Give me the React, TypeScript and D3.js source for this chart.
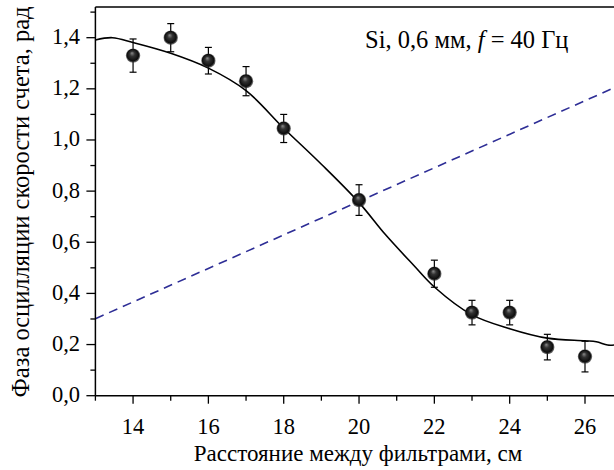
import React from "react";
import * as d3 from "d3";

const xValues = [14, 15, 16, 17, 18, 20, 22, 23, 24, 25, 26];
const yValues = [1.33, 1.4, 1.31, 1.23, 1.045, 0.765, 0.477, 0.325, 0.325, 0.19, 0.153];
const yErrors = [0.065, 0.055, 0.052, 0.057, 0.055, 0.06, 0.053, 0.048, 0.048, 0.05, 0.06];

const fitX = [13.0, 13.45, 14, 15, 16, 17, 18, 19, 20, 20.7, 21.45, 22, 23, 24, 25, 26, 26.3, 26.6, 26.77];
const fitY = [1.391, 1.4, 1.381, 1.339, 1.281, 1.193, 1.046, 0.905, 0.755, 0.63, 0.51, 0.425, 0.316, 0.262, 0.225, 0.215, 0.211, 0.198, 0.198];

const lineX = [13.0, 26.77];
const lineY = [0.301, 1.204];

const xTicks = [14, 16, 18, 20, 22, 24, 26];
const xMinor = [13, 15, 17, 19, 21, 23, 25];
const yTicks = [0, 0.2, 0.4, 0.6, 0.8, 1.0, 1.2, 1.4];
const yMinor = [0.1, 0.3, 0.5, 0.7, 0.9, 1.1, 1.3, 1.5];

const legendText = "Si, 0,6 мм, ";
const xLabel = "Расстояние между фильтрами, см";
const yLabel = "Фаза осцилляции скорости счета, рад";

const W = 614, H = 470;
const L = 95.4, R = 614, T = 7, B = 395.7;

export default function App() {
  const x = d3.scaleLinear().domain([13, 26.77]).range([L, R]);
  const y = d3.scaleLinear().domain([0, 1.52]).range([B, T]);
  const ts = { fontFamily: "Liberation Serif" };

  const fitLine = d3
    .line<number>()
    .x((_, i) => x(fitX[i]))
    .y((d) => y(d))
    .curve(d3.curveCatmullRom.alpha(0.5))(fitY) as string;

  const dashLine = d3
    .line<number>()
    .x((_, i) => x(lineX[i]))
    .y((d) => y(d))(lineY) as string;

  const fmt = (v: number) => v.toFixed(1).replace(".", ",");

  return (
    <svg width={W} height={H} style={{ position: "absolute", left: 0, top: 0, background: "#fff" }}>
      <defs>
        <radialGradient id="ball" cx="0.5" cy="0.5" r="0.5" fx="0.42" fy="0.32">
          <stop offset="0" stopColor="#8a8a8a" />
          <stop offset="0.35" stopColor="#333" />
          <stop offset="0.8" stopColor="#0d0d0d" />
          <stop offset="1" stopColor="#333" stopOpacity="0.6" />
        </radialGradient>
        <clipPath id="clip">
          <rect x={L} y={T} width={R - L} height={B - T} />
        </clipPath>
      </defs>
      <rect width={W} height={H} fill="#fff" />

      <g clipPath="url(#clip)">
        <path d={dashLine} fill="none" stroke="#2e2e96" strokeWidth={1.6} strokeDasharray="9,6" />
        <path d={fitLine} fill="none" stroke="#000" strokeWidth={1.6} />
      </g>

      {xValues.map((xv, i) => {
        const cx = x(xv);
        const y1 = y(yValues[i] + yErrors[i]);
        const y2 = y(yValues[i] - yErrors[i]);
        return (
          <g key={i}>
            <line x1={cx} x2={cx} y1={y1} y2={y2} stroke="#000" strokeWidth={1.2} />
            <line x1={cx - 3.5} x2={cx + 3.5} y1={y1} y2={y1} stroke="#000" strokeWidth={1.2} />
            <line x1={cx - 3.5} x2={cx + 3.5} y1={y2} y2={y2} stroke="#000" strokeWidth={1.2} />
            <circle cx={cx} cy={y(yValues[i])} r={7.2} fill="url(#ball)" />
          </g>
        );
      })}

      <line x1={L} x2={L} y1={T} y2={B} stroke="#000" strokeWidth={1.5} />
      <line x1={L} x2={R} y1={B} y2={B} stroke="#000" strokeWidth={1.5} />
      <line x1={L} x2={R} y1={T} y2={T} stroke="#000" strokeWidth={1.5} />

      {xTicks.map((t) => (
        <g key={"xt" + t}>
          <line x1={x(t)} x2={x(t)} y1={B} y2={B + 8} stroke="#000" strokeWidth={1.3} />
          <text x={x(t)} y={433.5} fontSize={22.5} textAnchor="middle" style={ts}>{t}</text>
        </g>
      ))}
      {xMinor.map((t) => (
        <line key={"xm" + t} x1={x(t)} x2={x(t)} y1={B} y2={B + 5} stroke="#000" strokeWidth={1.3} />
      ))}
      {yTicks.map((t) => (
        <g key={"yt" + t}>
          <line x1={L - 9} x2={L} y1={y(t)} y2={y(t)} stroke="#000" strokeWidth={1.3} />
          <text x={80} y={y(t) + 6.5} fontSize={22.5} textAnchor="end" style={ts}>{fmt(t)}</text>
        </g>
      ))}
      {yMinor.map((t) => (
        <line key={"ym" + t} x1={L - 5} x2={L} y1={y(t)} y2={y(t)} stroke="#000" strokeWidth={1.3} />
      ))}

      <text x={365} y={48} fontSize={24.5} style={ts}>
        {legendText}
        <tspan fontStyle="italic">f</tspan>
        {" = 40 Гц"}
      </text>

      <text x={358} y={461} fontSize={23} textAnchor="middle" style={ts}>{xLabel}</text>
      <text transform={`translate(29,202) rotate(-90)`} fontSize={24.5} textAnchor="middle" style={ts}>{yLabel}</text>
    </svg>
  );
}
